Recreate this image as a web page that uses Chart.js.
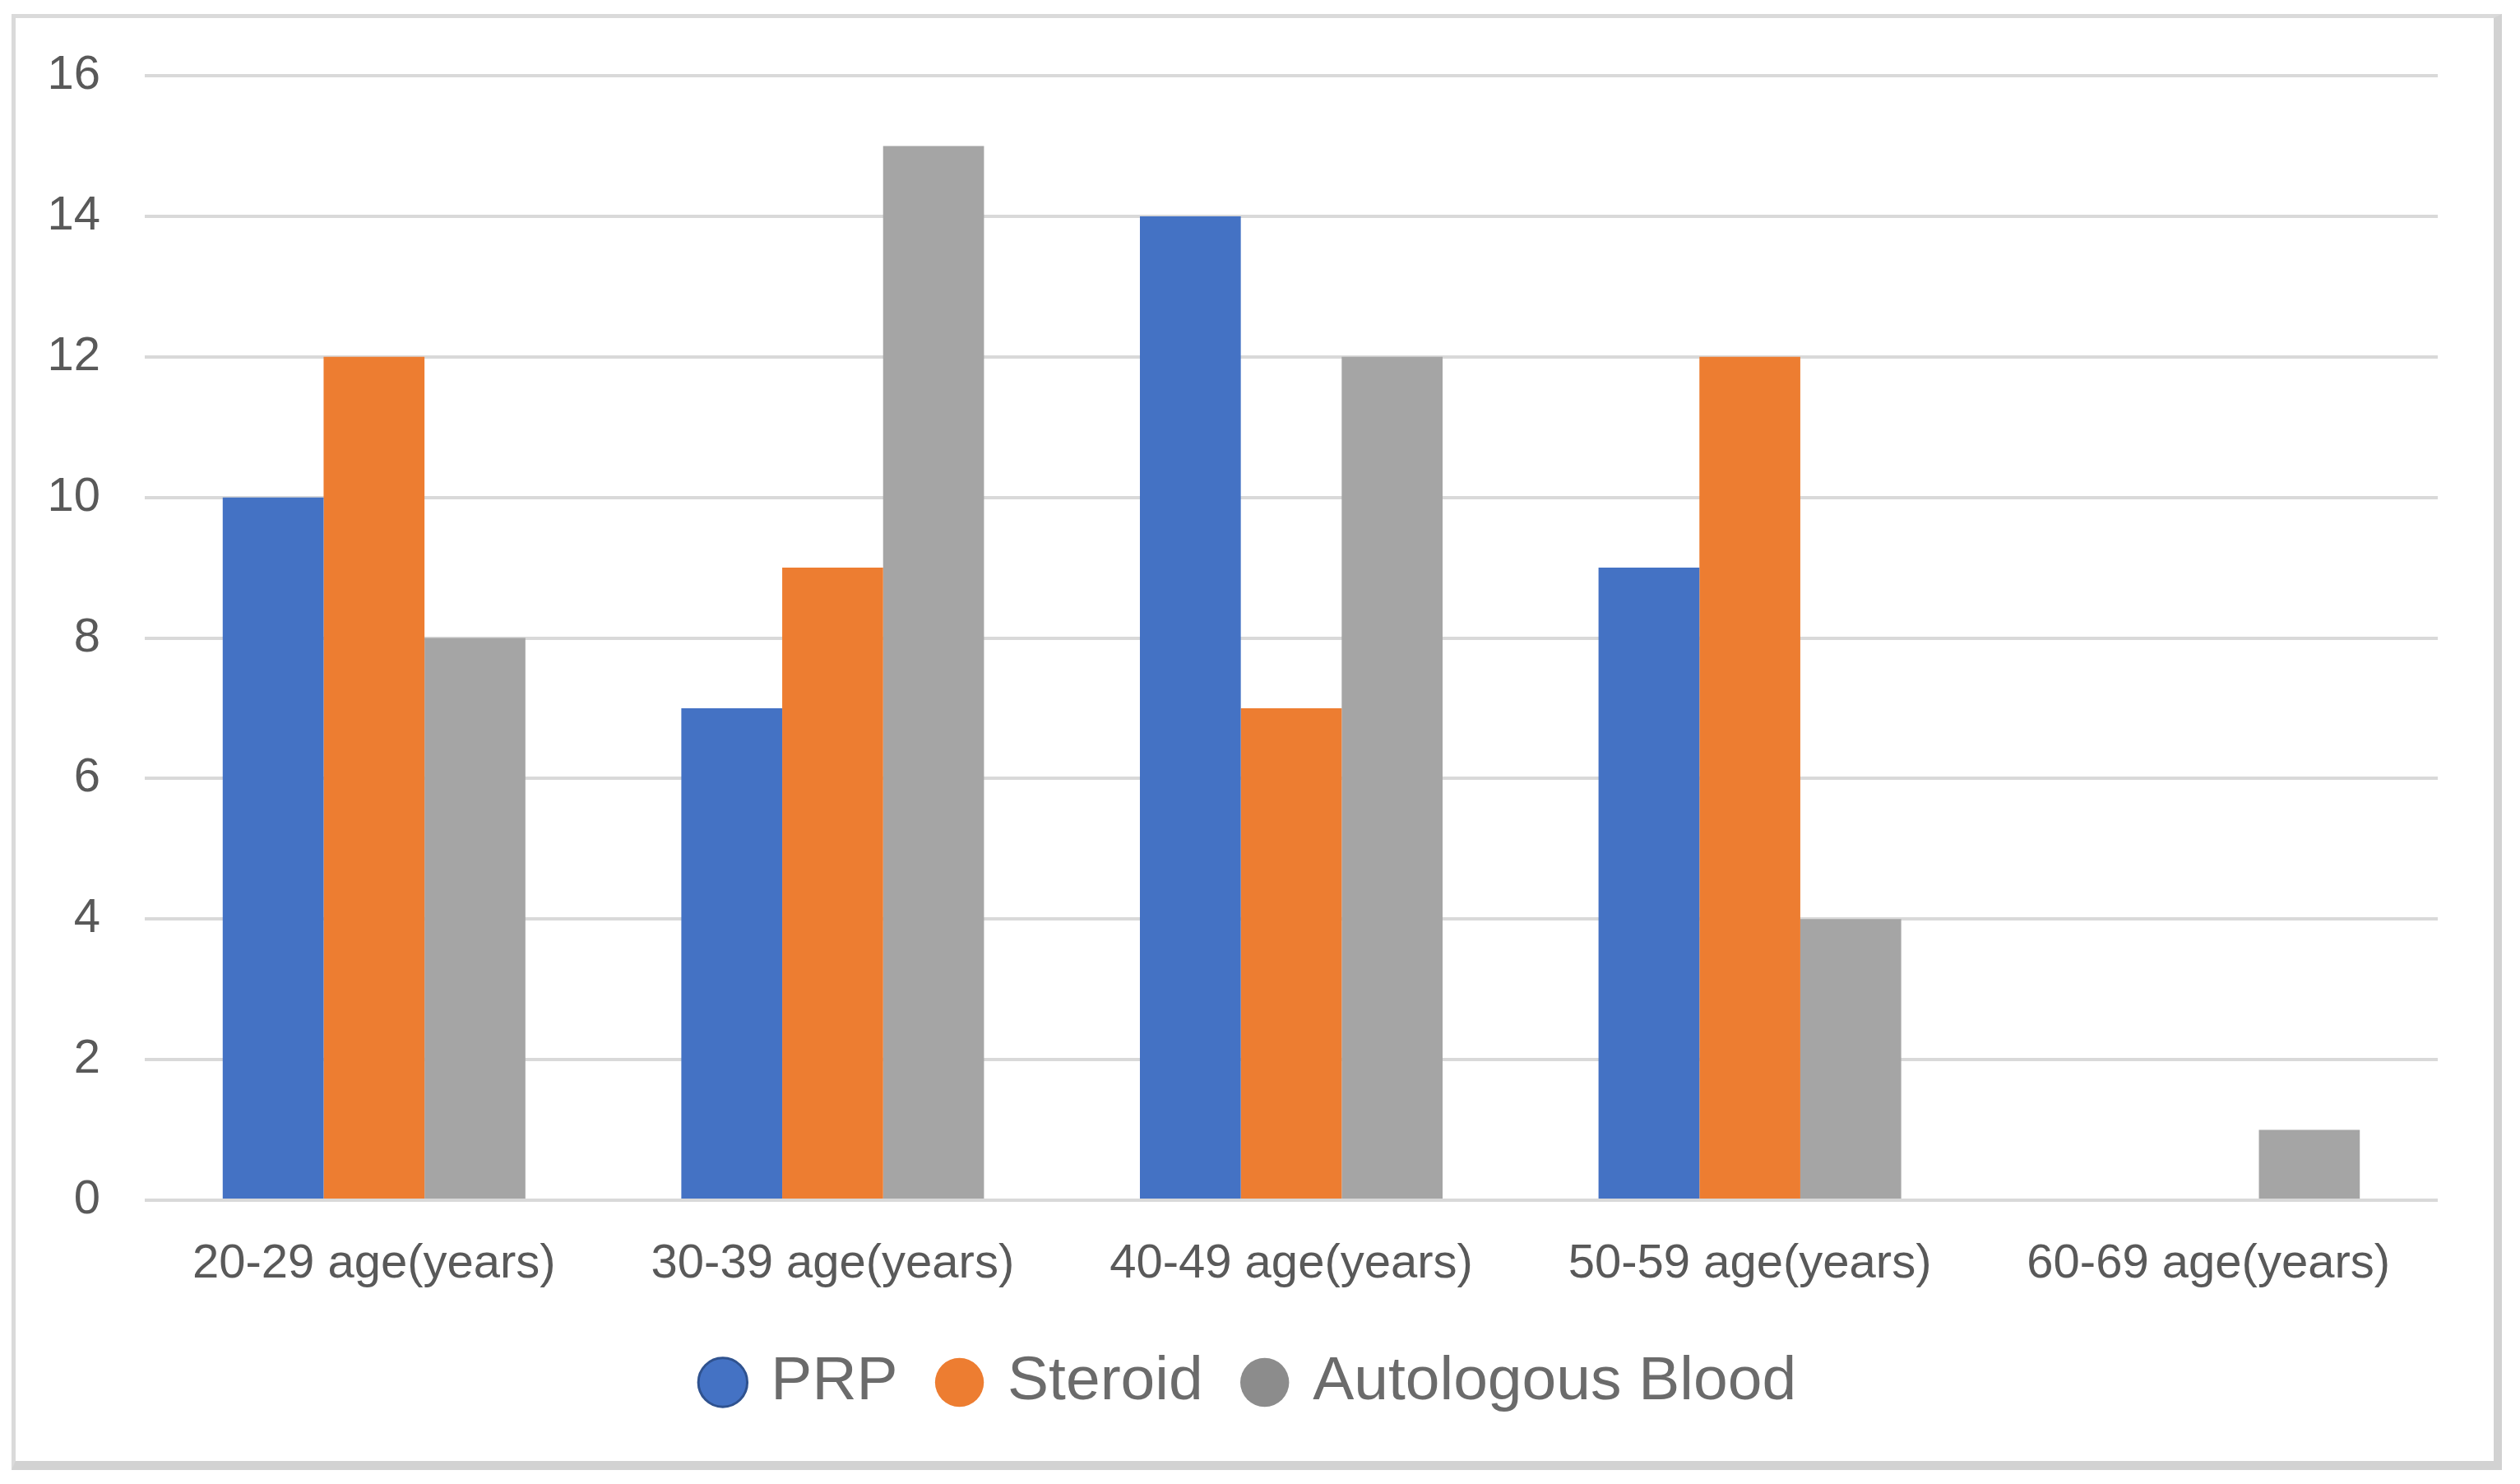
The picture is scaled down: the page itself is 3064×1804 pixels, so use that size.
<!DOCTYPE html>
<html>
<head>
<meta charset="utf-8">
<script src="https://cdn.jsdelivr.net/npm/chart.js@4.4.1/dist/chart.umd.min.js"></script>
<style>
  html, body { margin: 0; padding: 0; background: #ffffff; }
  body { width: 3064px; height: 1804px; position: relative; overflow: hidden; }
  #frame {
    position: absolute; left: 14px; top: 17px; width: 3013px; height: 1754px;
    border-top: 5px solid #dadada; border-left: 5px solid #dadada;
    border-right: 10px solid #d2d2d2; border-bottom: 11px solid #d2d2d2;
    background: #ffffff;
  }
  #c { position: absolute; left: 0; top: 0; }
</style>
</head>
<body>
<div id="frame"></div>
<canvas id="c" width="3064" height="1804" style="width:3064px;height:1804px;"></canvas>
<script>
const categories = ["20-29 age(years)", "30-39 age(years)", "40-49 age(years)", "50-59 age(years)", "60-69 age(years)"];
const seriesNames = ["PRP", "Steroid", "Autologous Blood"];
const prpValues = [10, 7, 14, 9, 0];
const steroidValues = [12, 9, 7, 12, 0];
const autologousValues = [8, 15, 12, 4, 1];
const yTicks = [0, 2, 4, 6, 8, 10, 12, 14, 16];

const barColors = ["#4472c4", "#ed7d31", "#a5a5a5"];
const legendFill = ["#4472c4", "#ed7d31", "#8c8c8c"];
const legendStroke = ["#2f528f", "#ed7d31", "#8c8c8c"];
const legendLineWidth = [3, 0, 0];

Chart.defaults.font.family = "'Liberation Sans', Arial, sans-serif";

// shift the legend row slightly right so it is centred like the reference
const legendShift = {
  id: 'legendShift',
  afterLayout(chart) {
    if (chart.legend) { chart.legend.left += 14; chart.legend.right += 14; }
  }
};

new Chart(document.getElementById('c'), {
  type: 'bar',
  data: {
    labels: categories,
    datasets: [
      { label: seriesNames[0], data: prpValues, backgroundColor: barColors[0] },
      { label: seriesNames[1], data: steroidValues, backgroundColor: barColors[1] },
      { label: seriesNames[2], data: autologousValues, backgroundColor: barColors[2] }
    ]
  },
  plugins: [legendShift],
  options: {
    responsive: false,
    animation: false,
    devicePixelRatio: 1,
    layout: { padding: { left: 50, right: 100, top: 92, bottom: 76 } },
    datasets: { bar: { barPercentage: 1.0, categoryPercentage: 0.66, borderWidth: 0 } },
    scales: {
      x: {
        grid: { display: false, drawTicks: false },
        border: { display: false },
        ticks: { color: '#595959', font: { size: 58 }, padding: 43, maxRotation: 0, autoSkip: false },
        afterFit: (s) => { s.height = 130; }
      },
      y: {
        min: 0, max: 16,
        afterBuildTicks: (s) => { s.ticks = yTicks.map(v => ({ value: v })); },
        grid: { color: '#d9d9d9', lineWidth: 4, drawTicks: false },
        border: { display: false },
        ticks: { color: '#595959', font: { size: 58 }, padding: 54 },
        afterFit: (s) => { s.width = 126; }
      }
    },
    plugins: {
      tooltip: { enabled: false },
      legend: {
        position: 'bottom',
        labels: {
          usePointStyle: true,
          pointStyle: 'circle',
          boxWidth: 42,
          boxHeight: 42,
          padding: 54,
          color: '#6b6b6b',
          font: { size: 75 },
          generateLabels: (chart) => {
            const items = Chart.defaults.plugins.legend.labels.generateLabels(chart);
            items.forEach((it, i) => {
              it.fillStyle = legendFill[i];
              it.strokeStyle = legendStroke[i];
              it.lineWidth = legendLineWidth[i];
              it.pointStyle = 'circle';
            });
            return items;
          }
        }
      }
    }
  }
});
</script>
</body>
</html>
